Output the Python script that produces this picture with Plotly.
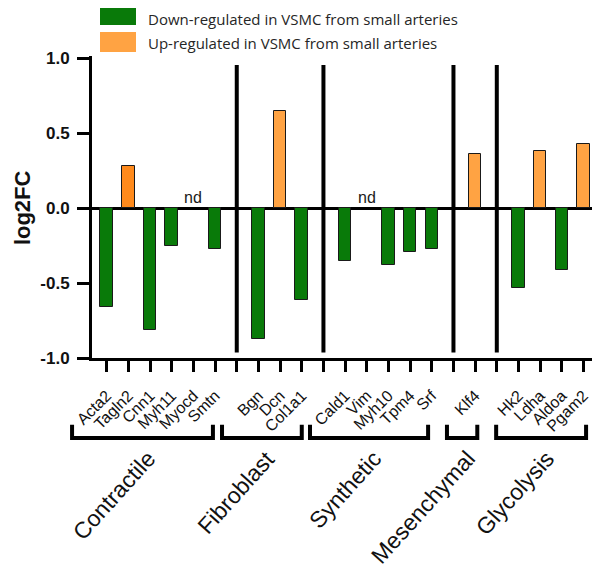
import plotly.graph_objects as go

# ---------------- data ----------------
genes = ["Acta2", "Tagln2", "Cnn1", "Myh11", "Myocd", "Smtn",
         "Bgn", "Dcn", "Col1a1",
         "Cald1", "Vim", "Myh10", "Tpm4", "Srf",
         "Klf4",
         "Hk2", "Ldha", "Aldoa", "Pgam2"]
log2fc = [-0.66, 0.28, -0.81, -0.25, None, -0.27,
          -0.87, 0.65, -0.61,
          -0.35, None, -0.38, -0.29, -0.27,
          0.36,
          -0.53, 0.38, -0.41, 0.43]
groups = ["Contractile", "Fibroblast", "Synthetic", "Mesenchymal", "Glycolysis"]
group_sizes = [6, 3, 5, 1, 4]
highlight = ["Tagln2"]
legend_labels = ["Down-regulated in VSMC from small arteries",
                 "Up-regulated in VSMC from small arteries"]
y_ticks = [-1.0, -0.5, 0.0, 0.5, 1.0]

# ---------------- styles ----------------
GREEN = "#097A09"
ORANGE = "#FFA343"
ORANGE_DARK = "#FF8A1C"
FONT = "Liberation Sans"

OFF = 8                     # page body margin of the html page
W, H = 600 - OFF, 581 - OFF
# plot area in page pixels: left 92, right 598, top 56, bottom 358.3
ML = 92 - OFF
MR = W - (598 - OFF)
MT = 56 - OFF
MB = H - (358.3 - OFF)
PW = W - ML - MR
PH = H - MT - MB
XMIN, XMAX = -0.68, 22.67
YMIN, YMAX = -1.0, 1.015

def xp(slot):   # data slot -> paper
    return (slot - XMIN) / (XMAX - XMIN)

def xpx(slot):  # data slot -> page pixel
    return ML + OFF + xp(slot) * PW

def px2paper_x(px):  # page pixel -> paper
    return (px - OFF - ML) / PW

def py2paper_y(py):  # page pixel -> paper
    return (H - MB - (py - OFF)) / PH

# slot layout: genes consecutive, a separator slot between groups
gene_slot = []
sep_slots = []
group_ranges = []
s = 0
for gi, n in enumerate(group_sizes):
    first = s
    for _ in range(n):
        gene_slot.append(s)
        s += 1
    group_ranges.append((first, s - 1))
    if gi < len(group_sizes) - 1:
        sep_slots.append(s)
        s += 1
n_slots = s

tickvals = list(range(n_slots))
ticktext = [""] * n_slots
for g, sl in zip(genes, gene_slot):
    ticktext[sl] = g

bx, by, bc = [], [], []
for g, sl, v in zip(genes, gene_slot, log2fc):
    if v is None:
        continue
    bx.append(sl)
    by.append(v)
    if g in highlight:
        bc.append(ORANGE_DARK)
    elif v > 0:
        bc.append(ORANGE)
    else:
        bc.append(GREEN)

fig = go.Figure()
fig.add_trace(go.Bar(
    x=bx, y=by, width=0.58,
    marker=dict(color=bc, line=dict(color="#1a1a1a", width=1)),
    showlegend=False, hoverinfo="skip",
))

shapes = []
annotations = []

# separators
for sl in sep_slots:
    shapes.append(dict(type="line", xref="x", yref="y", x0=sl, x1=sl,
                       y0=-0.963, y1=0.955,
                       line=dict(color="black", width=4), layer="above"))

# nd labels
for g, sl, v in zip(genes, gene_slot, log2fc):
    if v is None:
        annotations.append(dict(x=sl, y=0.07, xref="x", yref="y", text="nd",
                                showarrow=False, font=dict(family=FONT, size=16, color="#1a1a1a"),
                                xanchor="center", yanchor="middle"))

# brackets and group labels
left_pad = [-1.6, -1.68, -1.62, -1.3, -1.03]
right_pad = [-0.1, 0.0, -0.17, 0.1, 0.12]
y_top = py2paper_y(425)
y_bot = py2paper_y(438.5)
for (a, b), lp, rp, name in zip(group_ranges, left_pad, right_pad, groups):
    x0 = xp(a + lp)
    x1 = xp(b + rp)
    shapes.append(dict(type="path", xref="paper", yref="paper",
                       path=f"M {x0},{y_top} L {x0},{y_bot} L {x1},{y_bot} L {x1},{y_top}",
                       line=dict(color="black", width=4)))
    cx_px = (xpx(a + lp) + xpx(b + rp)) / 2 + 21
    annotations.append(dict(x=px2paper_x(cx_px), y=py2paper_y(443), xref="paper", yref="paper",
                            text=name, showarrow=False, textangle=-48,
                            xanchor="right", yanchor="top",
                            font=dict(family=FONT, size=23, color="#111")))

# y-axis title
annotations.append(dict(x=px2paper_x(22), y=0, xref="paper", yref="y", text="<b>log2FC</b>",
                        showarrow=False, textangle=-90, xanchor="center", yanchor="middle",
                        font=dict(family=FONT, size=22, color="#111")))

# manual legend
leg_colors = [GREEN, ORANGE]
leg_y = [(8, 25), (32, 52)]
leg_text_y = [19, 43]
for col, (ya, yb), ty, lab in zip(leg_colors, leg_y, leg_text_y, legend_labels):
    shapes.append(dict(type="rect", xref="paper", yref="paper",
                       x0=px2paper_x(100), x1=px2paper_x(136),
                       y0=py2paper_y(yb), y1=py2paper_y(ya),
                       fillcolor=col, line=dict(width=0)))
    annotations.append(dict(x=px2paper_x(146), y=py2paper_y(ty), xref="paper", yref="paper",
                            text=lab, showarrow=False, xanchor="left", yanchor="middle",
                            font=dict(family="Open Sans", size=15, color="#262626")))

fig.update_layout(
    template="none",
    width=W, height=H,
    margin=dict(l=ML, r=MR, t=MT, b=MB, pad=0, autoexpand=False),
    plot_bgcolor="white", paper_bgcolor="white",
    shapes=shapes, annotations=annotations,
    bargap=0,
    xaxis=dict(range=[XMIN, XMAX], tickmode="array", tickvals=tickvals, ticktext=ticktext,
               tickangle=-45, ticks="outside", ticklen=11, tickwidth=3, tickcolor="black",
               showline=True, linewidth=3, linecolor="black", showgrid=False, zeroline=False,
               automargin=False, ticklabelstandoff=8,
               tickfont=dict(family=FONT, size=16, color="#111")),
    yaxis=dict(range=[YMIN, YMAX], tickmode="array", tickvals=y_ticks,
               ticktext=[f"<b>{v:.1f}</b>" for v in y_ticks],
               ticks="outside", ticklen=12, tickwidth=3, tickcolor="black",
               showline=True, linewidth=3, linecolor="black", showgrid=False,
               zeroline=True, zerolinewidth=2.5, zerolinecolor="black",
               automargin=False, ticklabelstandoff=4,
               tickfont=dict(family=FONT, size=17, color="#111")),
)

fig.write_html("out.html")
